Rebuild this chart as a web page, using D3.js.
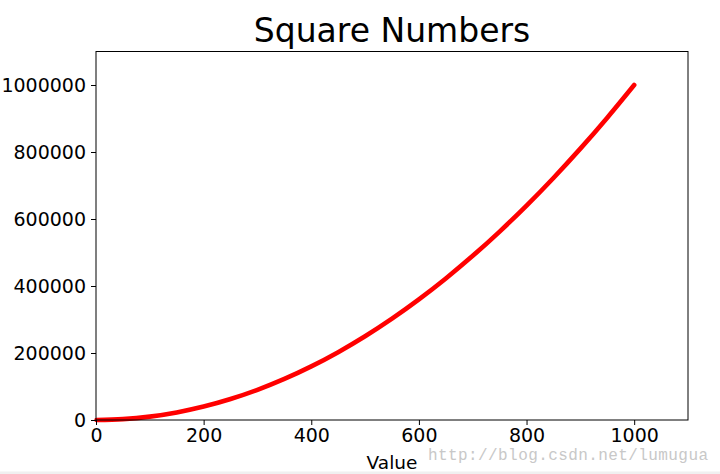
<!DOCTYPE html>
<html><head><meta charset="utf-8">
<script src="https://cdn.jsdelivr.net/npm/d3@7"></script>
<style>html,body{margin:0;padding:0;background:#fff;}svg{display:block;}</style>
</head><body>
<script>
const xValues = [1, 50, 100, 150, 200, 250, 300, 350, 400, 450, 500, 550, 600, 650, 700, 750, 800, 850, 900, 950, 1000];
const yValues = [1, 2500, 10000, 22500, 40000, 62500, 90000, 122500, 160000, 202500, 250000, 302500, 360000, 422500, 490000, 562500, 640000, 722500, 810000, 902500, 1000000];
const xTicks = [0, 200, 400, 600, 800, 1000];
const yTicks = [0, 200000, 400000, 600000, 800000, 1000000];
const titleText = "Square Numbers";
const xLabel = "Value";
const watermark = "http://blog.csdn.net/lumugua";

const W = 720, H = 474;
const m = {l: 96, r: 32, t: 51.5, b: 54};
const svg = d3.select("body").append("svg").attr("width", W).attr("height", H);
const x = d3.scaleLinear().domain([0, 1100]).range([m.l, W - m.r]);
const y = d3.scaleLinear().domain([0, 1100000]).range([H - m.b, m.t]);
const font = "DejaVu Sans, sans-serif";

svg.append("rect").attr("x", 0).attr("y", 471.5).attr("width", W).attr("height", 3).attr("fill", "#f0f0f0");

const line = d3.line().x((d, i) => x(xValues[i])).y(d => y(d)).curve(d3.curveMonotoneX);
svg.append("path").datum(yValues).attr("d", line)
  .attr("fill", "none").attr("stroke", "#ff0000").attr("stroke-width", 4.6).attr("stroke-linecap", "round");

svg.append("rect").attr("x", m.l).attr("y", m.t).attr("width", W - m.r - m.l).attr("height", H - m.b - m.t)
  .attr("fill", "none").attr("stroke", "#000").attr("stroke-width", 1);

const xa = svg.append("g").attr("transform", `translate(0,${H - m.b})`)
  .call(d3.axisBottom(x).tickValues(xTicks).tickSize(5).tickPadding(4).tickFormat(d3.format("d")));
const ya = svg.append("g").attr("transform", `translate(${m.l},0)`)
  .call(d3.axisLeft(y).tickValues(yTicks).tickSize(5).tickPadding(5).tickFormat(d3.format("d")));
[xa, ya].forEach(a => {
  a.select(".domain").remove();
  a.selectAll("text").attr("font-family", font).attr("font-size", 19).attr("fill", "#000");
  a.selectAll("line").attr("stroke", "#000");
});

svg.append("text").attr("x", (m.l + W - m.r) / 2).attr("y", 42).attr("text-anchor", "middle")
  .attr("font-family", font).attr("font-size", 33).text(titleText);
svg.append("text").attr("x", (m.l + W - m.r) / 2).attr("y", 469).attr("text-anchor", "middle")
  .attr("font-family", font).attr("font-size", 18.5).text(xLabel);
svg.append("text").attr("x", 428).attr("y", 460).attr("font-family", "Liberation Mono, monospace")
  .attr("font-size", 16).attr("fill", "#c8c8c8").attr("textLength", 280).text(watermark);
</script>
</body></html>
